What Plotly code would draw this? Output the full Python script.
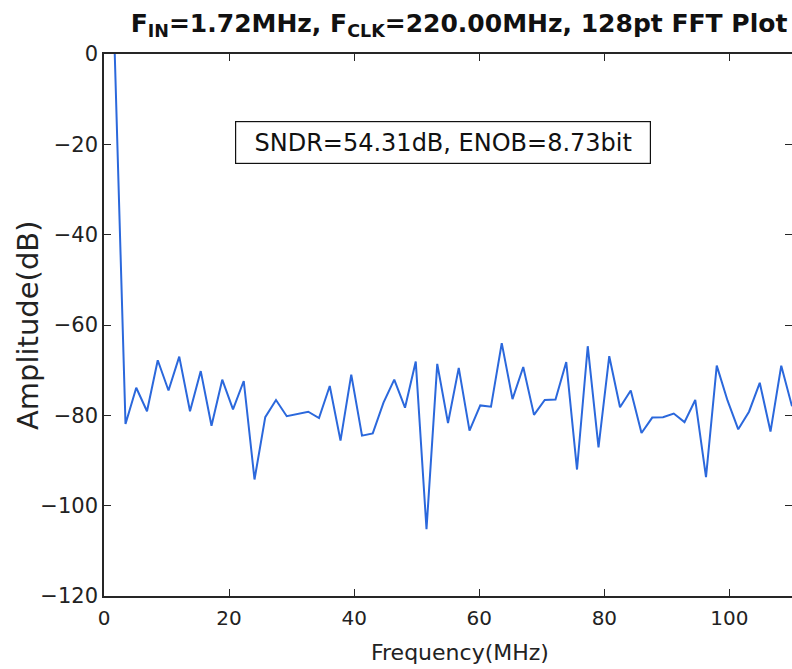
import plotly.graph_objects as go

f_clk = 220.0
n_fft = 128
bins = list(range(1, 65))
freq_mhz = [k * f_clk / n_fft for k in bins]
amplitude_db = [
    0.0, -81.9, -73.9, -79.1, -67.8, -74.5, -67.0, -79.1, -70.2, -82.3,
    -72.1, -78.7, -72.4, -94.2, -80.4, -76.6, -80.2, -79.7, -79.2, -80.6,
    -73.5, -85.6, -71.0, -84.5, -84.0, -77.2, -72.1, -78.3, -68.1, -105.2,
    -68.6, -81.7, -69.5, -83.4, -77.8, -78.1, -64.0, -76.4, -69.3, -79.9,
    -76.6, -76.5, -68.2, -92.0, -64.7, -87.1, -66.9, -78.2, -74.5, -83.9,
    -80.5, -80.4, -79.6, -81.5, -76.6, -93.7, -69.0, -76.7, -83.1, -79.2,
    -72.8, -83.6, -69.0, -78.0,
]
x_ticks = [0, 20, 40, 60, 80, 100]
y_ticks = [-120, -100, -80, -60, -40, -20, 0]
title_text = "F<sub>IN</sub>=1.72MHz, F<sub>CLK</sub>=220.00MHz, 128pt FFT Plot"
metrics_text = "SNDR=54.31dB, ENOB=8.73bit"
x_title = "Frequency(MHz)"
y_title = "Amplitude(dB)"


def tick_label(v):
    return ("\u2212" + str(abs(v))) if v < 0 else str(v)


font_family = "DejaVu Sans"
axis_color = "#262626"

fig = go.Figure()
fig.add_trace(go.Scatter(
    x=freq_mhz, y=amplitude_db, mode="lines",
    line=dict(color="#2b68dc", width=2),
    showlegend=False,
))

fig.add_annotation(
    x=54.2, y=-19.6, xref="x", yref="y",
    text=metrics_text, showarrow=False,
    font=dict(family=font_family, size=24, color="#111111"),
    width=402, height=29, align="center",
    bordercolor="#111111", borderwidth=1.2, borderpad=6,
    bgcolor="white",
)
fig.add_annotation(
    x=(460 - 104) / 688, y=(596 - 652) / 542, xref="paper", yref="paper",
    text=x_title, showarrow=False, xanchor="center", yanchor="middle",
    font=dict(family=font_family, size=22, color="#222222"),
)
fig.add_annotation(
    x=(28 - 104) / 688, y=0.5, xref="paper", yref="paper",
    text=y_title, showarrow=False, xanchor="center", yanchor="middle",
    textangle=-90,
    font=dict(family=font_family, size=29, color="#222222"),
)

fig.update_layout(
    width=792, height=669,
    margin=dict(l=104, r=0, t=54, b=73, autoexpand=False),
    paper_bgcolor="white", plot_bgcolor="white",
    font=dict(family=font_family, size=19, color="#222222"),
    title=dict(
        text=title_text, x=459 / 792, xanchor="center",
        y=1 - 23 / 669, yanchor="middle",
        font=dict(family=font_family, size=25, color="#111111", weight="bold"),
    ),
)
fig.update_xaxes(
    range=[0, 110], tickvals=x_ticks, ticktext=[tick_label(v) for v in x_ticks],
    ticks="inside", ticklen=7, tickwidth=1.2, tickcolor=axis_color,
    showline=True, linecolor=axis_color, linewidth=1.5, mirror="ticks",
    showgrid=False, zeroline=False, automargin=False,
    tickfont=dict(size=20), ticklabelstandoff=3,
)
fig.update_yaxes(
    range=[-120, 0], tickvals=y_ticks, ticktext=[tick_label(v) for v in y_ticks],
    ticks="inside", ticklen=7, tickwidth=1.2, tickcolor=axis_color,
    showline=True, linecolor=axis_color, linewidth=1.5, mirror="ticks",
    showgrid=False, zeroline=False, automargin=False,
    tickfont=dict(size=21),
)

fig.write_html(
    "out.html",
    config={"displayModeBar": False},
    post_script="document.body.style.margin='0';document.body.style.overflow='hidden';",
)
